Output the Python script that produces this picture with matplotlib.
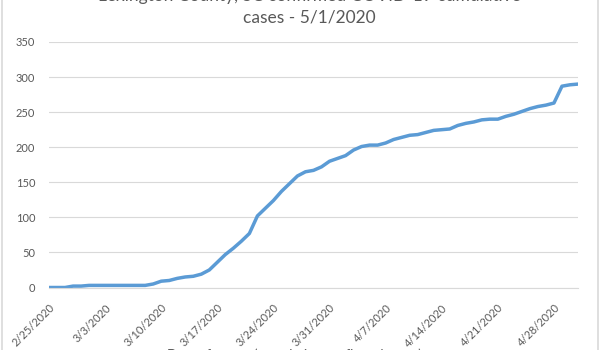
import numpy as np
import pandas as pd
import matplotlib
matplotlib.use("Agg")
import matplotlib.pyplot as plt
from matplotlib.lines import Line2D

# --- Data: cumulative confirmed cases, 2/25/2020 .. 5/1/2020 (one value per day) ---
dates = pd.date_range("2020-02-25", "2020-05-01", freq="D")
cases = [
    0, 0, 0, 2, 2, 3, 3, 3, 3, 3, 3, 3, 3, 5, 9, 10, 13, 15, 16, 19,   # 2/25 - 3/15
    25, 36, 47, 56, 66, 77, 102, 113, 124, 137, 148, 159, 165, 167,    # 3/16 - 3/29
    172, 180, 184, 188, 196, 201, 203, 203, 206, 211, 214, 217, 218,   # 3/30 - 4/11
    221, 224, 225, 226, 231, 234, 236, 239, 240, 240, 244, 247, 251,   # 4/12 - 4/24
    255, 258, 260, 263, 287, 289, 290,                                 # 4/25 - 5/1
]
yticks = [0, 50, 100, 150, 200, 250, 300, 350]
title_lines = ["Lexington County, SC confirmed COVID-19 cumulative", "cases - 5/1/2020"]
xlabel = "Date of report (cumulative confirmed cases)"

GREY_TXT = "#595959"
GRID = "#D9D9D9"
BLUE = "#5B9BD5"
plt.rcParams["font.family"] = ["Lato", "DejaVu Sans"]

fig = plt.figure(figsize=(6.0, 3.5), dpi=100)
ax = fig.add_axes([49 / 600, 1 - 287.5 / 350, 529 / 600, 245.5 / 350])

x = np.arange(len(dates))
ax.plot(x, cases, color=BLUE, lw=2.5, solid_capstyle="round", solid_joinstyle="round")

ax.set_xlim(0, len(dates) - 1)
ax.set_ylim(0, 350)
ax.set_yticks(yticks)
ax.grid(axis="y", color=GRID, lw=0.8)
ax.set_axisbelow(True)
for s in ["top", "right", "left"]:
    ax.spines[s].set_visible(False)
ax.spines["bottom"].set_color(GRID)
ax.spines["bottom"].set_linewidth(0.8)

tick_idx = x[::7]
ax.set_xticks(tick_idx)
ax.set_xticklabels([f"{d.month}/{d.day}/{d.year}" for d in dates[::7]],
                   rotation=45, ha="right", rotation_mode="anchor")
ax.tick_params(axis="x", length=0, pad=10.5, labelsize=8, labelcolor=GREY_TXT)
ax.tick_params(axis="y", length=0, pad=10, labelsize=8, labelcolor=GREY_TXT)

# title and axis title sit partly outside the picture, as in the reference
fig.text(0.516, 1.012, title_lines[0], ha="center", va="center",
         fontsize=12.5, color=GREY_TXT)
fig.text(0.516, 0.951, title_lines[1], ha="center", va="center",
         fontsize=12.5, color=GREY_TXT)
fig.text(0.49, -0.013, xlabel, ha="center", va="center",
         fontsize=9.5, color=GREY_TXT)

# chart-area border (only the sides are in frame)
for xe in (0.004, 0.996):
    fig.add_artist(Line2D([xe, xe], [0, 1], transform=fig.transFigure,
                          color=GRID, lw=1.2))

fig.savefig("out.png", dpi=100)
